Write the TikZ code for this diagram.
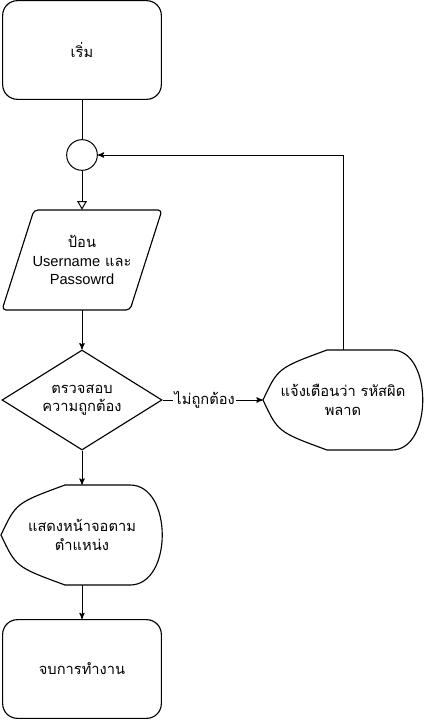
\documentclass[tikz,border=0pt]{standalone}
\usepackage{fontspec}
\setmainfont{Liberation Sans}
\newfontfamily\thaifont[Script=Thai]{Loma}
\newcommand\eng[1]{{\rmfamily #1}}
\usepackage{tikz}
\usetikzlibrary{arrows,shapes.geometric}

\begin{document}
\begin{tikzpicture}[x=0.75pt, y=-0.75pt]
	\tikzset{txt/.style = {align=center, font=\thaifont\fontsize{11}{14}\selectfont}}
	\tikzset{box/.style = {draw, rounded corners=11pt, minimum width=119pt, minimum height=74pt, line width=0.85pt}}
	\tikzset{outline/.style = {draw, line width=0.85pt, line join=round}}
	\tikzset{link/.style = {line width=0.75pt}}
	\tikzset{edge/.style = {->, > = stealth', line width=0.75pt}}
	\tikzset{hollow/.style = {-open triangle 60, line width=0.75pt}}
	\useasboundingbox (0,0) rectangle (424,721);
	\node[box, txt] (start) at (82,50) {เริ่ม};
	\node[draw, circle, minimum size=23pt, inner sep=0pt, line width=0.75pt] (junction) at (82,155) {};
	\draw[outline, rounded corners=3pt] (34,210) -- (162,210) -- (130,310) -- (2,310) -- cycle;
	\node[txt, minimum width=120pt, minimum height=75pt] (input) at (82,260) {ป้อน\\\eng{Username} และ\\\eng{Passowrd}};
	\node[draw, diamond, aspect=1.6, minimum width=120pt, minimum height=75pt, inner sep=0pt, line width=0.85pt, txt] (check) at (82,400) {ตรวจสอบ\\ความถูกต้อง};
	\draw[outline] (263,400) .. controls (278,368) .. (327,350) -- (392,350) .. controls (433,350) and (433,450) .. (392,450) -- (327,450) .. controls (278,432) .. (263,400) -- cycle;
	\node[txt, minimum width=120pt, minimum height=75pt] (warn) at (343,400) {แจ้งเตือนว่า รหัสผิด\\พลาด};
	\draw[outline] (1,535) .. controls (16,503) .. (65,485) -- (130,485) .. controls (173,485) and (173,585) .. (130,585) -- (65,585) .. controls (16,567) .. (1,535) -- cycle;
	\node[txt, minimum width=120pt, minimum height=75pt] (show) at (82,535) {แสดงหน้าจอตาม\\ตำแหน่ง};
	\node[box, txt] (finish) at (82,669) {จบการทำงาน};
	\draw[link] (start) to (junction);
	\draw[hollow] (junction) to (input);
	\draw[edge] (input) to (check);
	\draw[edge] (check) to node[txt, pos=0.42, fill=white, inner sep=1pt] (wrong) {ไม่ถูกต้อง} (warn);
	\draw[edge] (warn.north) |- (junction);
	\draw[edge] (check) to (show);
	\draw[edge] (show) to (finish);
\end{tikzpicture}
\end{document}
